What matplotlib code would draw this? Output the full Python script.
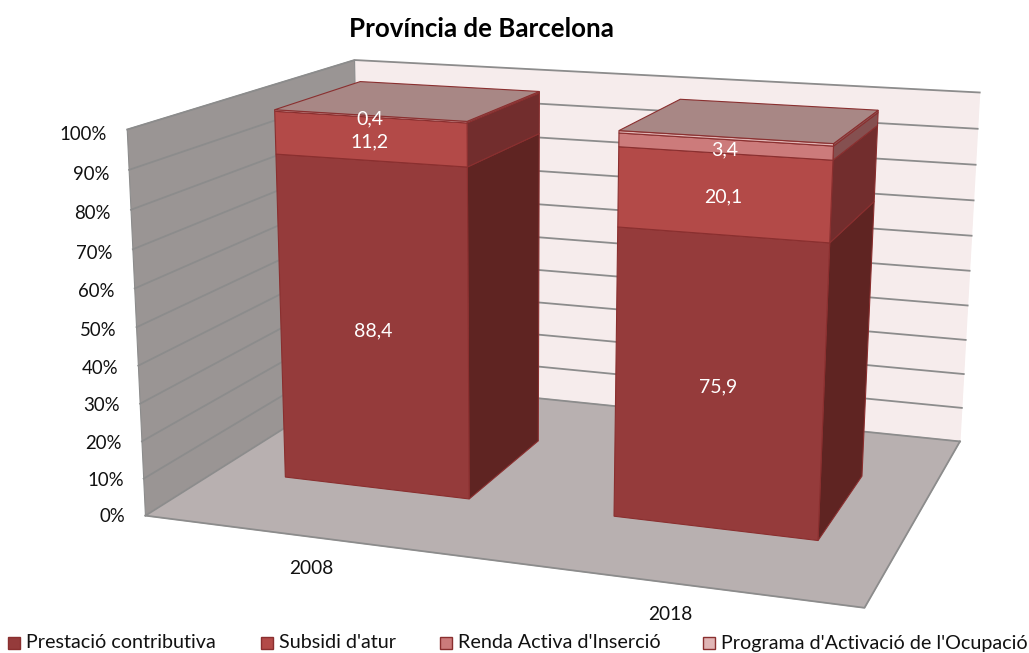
import numpy as np
import matplotlib
matplotlib.use("Agg")
import matplotlib.pyplot as plt
from matplotlib.patches import Polygon, Rectangle

plt.rcParams['font.family'] = ['Lato', 'DejaVu Sans']

# Datos
anys = ['2008', '2018']
series = ["Prestació contributiva", "Subsidi d'atur", "Renda Activa d'Inserció", "Programa d'Activació de l'Ocupació"]
prestacio = [88.4, 75.9]
subsidi = [11.2, 20.1]
renda = [0.0, 3.4]
programa = [0.4, 0.6]
etiquetes = [['88,4', '11,2', '', '0,4'], ['75,9', '20,1', '3,4', '']]
ticks = list(range(0, 101, 10))

# Colores
front = ['#953B3B', '#B34A48', '#CC7B7B', '#E0B5B5']
side = ['#5F2422', '#722D2D', '#855050', '#8F6060']
top_color = '#A88785'
edge = '#8A2F2F'

# Esquinas de la caja 3D en pixeles: (x, valor, profundidad) -> (px, py)
box3d = [(0, 0, 0), (1, 0, 0), (1, 0, 1), (0, 0, 1), (0, 1, 0), (0, 1, 1), (1, 1, 1)]
box2d = [(148, 515), (864, 609), (961, 440), (358, 381), (125, 129), (357, 60), (979, 93)]

A = []
for (X, Y, Z), (u, v) in zip(box3d, box2d):
    A.append([X, Y, Z, 1, 0, 0, 0, 0, -u * X, -u * Y, -u * Z, -u])
    A.append([0, 0, 0, 0, X, Y, Z, 1, -v * X, -v * Y, -v * Z, -v])
P = np.linalg.svd(np.array(A, dtype=float))[2][-1].reshape(3, 4)


def proj(x, val, z):
    h = P @ np.array([x, val / 100, z, 1.0])
    return h[0] / h[2], h[1] / h[2]


fig = plt.figure(figsize=(10.29, 6.53), dpi=100)
ax = fig.add_axes([0, 0, 1, 1])
ax.set_xlim(0, 1029)
ax.set_ylim(653, 0)
ax.axis('off')


def face(pts, color, ec=None, lw=0.8, z=1):
    ax.add_patch(Polygon([proj(*p) for p in pts], closed=True, facecolor=color,
                         edgecolor=ec if ec else color, linewidth=lw, zorder=z))


# Paredes y suelo
face([(0, 0, 1), (1, 0, 1), (1, 100, 1), (0, 100, 1)], '#F6ECEC')
face([(0, 0, 0), (0, 0, 1), (0, 100, 1), (0, 100, 0)], '#9A9594', ec='#8C8C8C')
face([(0, 0, 0), (1, 0, 0), (1, 0, 1), (0, 0, 1)], '#B8B0B0')
for t in ticks:
    a, b, c = proj(0, t, 0), proj(0, t, 1), proj(1, t, 1)
    ax.plot([a[0], b[0], c[0]], [a[1], b[1], c[1]], color='#8C8C8C', lw=1.3, zorder=2)
    ax.text(a[0] - 20, a[1] + 1 + t * 0.04, f'{t}%', ha='right', va='center', fontsize=13.4, color='#111111')
f0, f1, f2 = proj(0, 0, 0), proj(1, 0, 0), proj(1, 0, 1)
ax.plot([f0[0], f1[0], f2[0]], [f0[1], f1[1], f2[1]], color='#8C8C8C', lw=1.3, zorder=2)

# Barras
centros = [0.25, 0.75]
ample = 0.286
z0, z1 = 0.3, 0.7
for i in range(2):
    x0 = centros[i] - ample / 2
    x1 = centros[i] + ample / 2
    base = 0
    vals = [prestacio[i], subsidi[i], renda[i], programa[i]]
    for s, val in enumerate(vals):
        if val == 0:
            continue
        t = base + val
        face([(x1, base, z0), (x1, base, z1), (x1, t, z1), (x1, t, z0)], side[s], ec=edge, z=3)
        face([(x0, base, z0), (x1, base, z0), (x1, t, z0), (x0, t, z0)], front[s], ec=edge, z=3)
        base = t
    face([(x0, base, z0), (x1, base, z0), (x1, base, z1), (x0, base, z1)], top_color, ec=edge, z=3)

    base = 0
    for s, val in enumerate(vals):
        if etiquetes[i][s]:
            u, v = proj(centros[i], base + val / 2, z0)
            ax.text(u, v + 3, etiquetes[i][s], ha='center', va='center', color='white', fontsize=14, zorder=5)
        base += val
    u, v = proj(centros[i], 0, 0)
    ax.text(u + 1, v + 32, anys[i], ha='center', va='center', fontsize=13.8, color='#111111')

ax.text(481, 29, 'Província de Barcelona', ha='center', va='center', fontsize=18.6, fontweight='bold', color='black')

# Leyenda
legx = [8, 261, 440, 703]
for s, nom in enumerate(series):
    ax.add_patch(Rectangle((legx[s], 637), 12, 12, facecolor=front[s], edgecolor=edge, lw=1))
    ax.text(legx[s] + 18, 643, nom, ha='left', va='center', fontsize=14.2, color='#111111')

fig.savefig('out.png', dpi=100)
